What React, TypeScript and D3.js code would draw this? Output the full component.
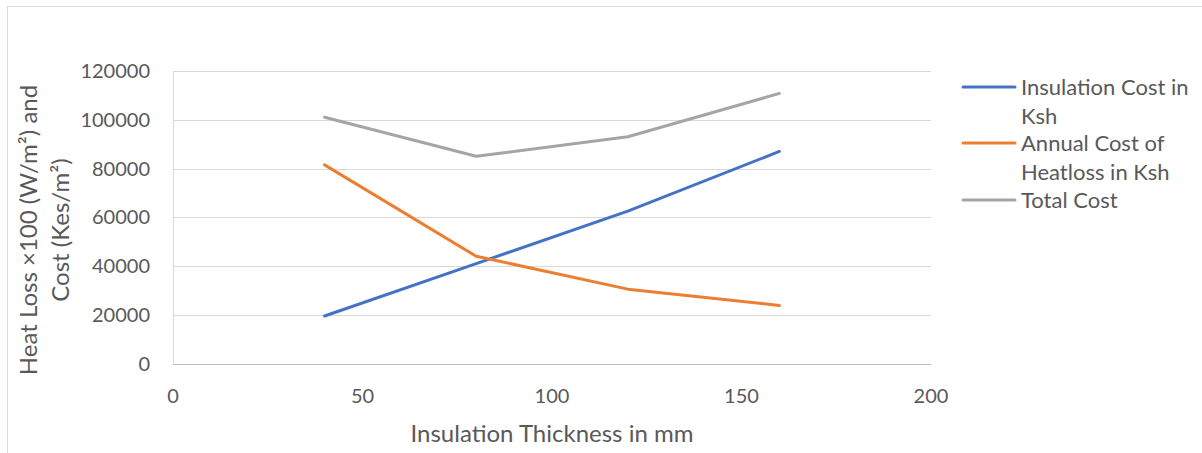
import React, { useEffect, useRef } from 'react';
import * as d3 from 'd3';

const thickness = [40, 80, 120, 160];
const insulationCost = [19500, 41000, 62500, 87000];
const heatlossCost = [81500, 44000, 30500, 23800];
const totalCost = [101000, 85000, 93000, 110800];

const seriesNames = [['Insulation Cost in', 'Ksh'], ['Annual Cost of', 'Heatloss in Ksh'], ['Total Cost']];
const seriesColors = ['#4472C4', '#ED7D31', '#A5A5A5'];
const xTicks = [0, 50, 100, 150, 200];
const yTicks = [0, 20000, 40000, 60000, 80000, 100000, 120000];

const App: React.FC = () => {
  const svgRef = useRef<SVGSVGElement>(null);

  useEffect(() => {
    if (!svgRef.current) return;
    const svg = d3.select(svgRef.current);
    svg.selectAll('*').remove();

    const width = 1202;
    const height = 453;
    const font = 'Lato, "Open Sans", sans-serif';
    const textColor = '#595959';

    // chart border
    svg.append('rect')
      .attr('x', 7.5).attr('y', 6.5)
      .attr('width', width).attr('height', height)
      .attr('fill', '#fff')
      .attr('stroke', '#d9d9d9');

    const x = d3.scaleLinear().domain([0, 200]).range([173, 931]);
    const y = d3.scaleLinear().domain([0, 120000]).range([363.5, 71]);

    // gridlines
    yTicks.forEach(t => {
      svg.append('line')
        .attr('x1', x(0)).attr('x2', x(200))
        .attr('y1', Math.round(y(t)) + 0.5).attr('y2', Math.round(y(t)) + 0.5)
        .attr('stroke', t === 0 ? '#bfbfbf' : '#d9d9d9')
        .attr('stroke-width', 1);
    });
    // left axis line
    svg.append('line')
      .attr('x1', x(0) + 0.5).attr('x2', x(0) + 0.5)
      .attr('y1', y(120000)).attr('y2', y(0))
      .attr('stroke', '#d9d9d9');

    // y tick labels
    yTicks.forEach(t => {
      svg.append('text')
        .attr('x', 150).attr('y', y(t))
        .attr('dy', '0.35em')
        .attr('text-anchor', 'end')
        .attr('font-family', font).attr('font-size', 20)
        .attr('fill', textColor)
        .text(String(t));
    });

    // x tick labels
    xTicks.forEach(t => {
      svg.append('text')
        .attr('x', x(t)).attr('y', 396)
        .attr('dy', '0.35em')
        .attr('text-anchor', 'middle')
        .attr('font-family', font).attr('font-size', 20)
        .attr('fill', textColor)
        .text(String(t));
    });

    // axis titles
    svg.append('text')
      .attr('x', 552).attr('y', 442)
      .attr('text-anchor', 'middle')
      .attr('font-family', font).attr('font-size', 24)
      .attr('fill', textColor)
      .text('Insulation Thickness in mm');

    const yTitle = svg.append('text')
      .attr('transform', 'translate(0,230) rotate(-90)')
      .attr('text-anchor', 'middle')
      .attr('font-family', font).attr('font-size', 24)
      .attr('fill', textColor);
    yTitle.append('tspan').attr('x', 0).attr('y', 37).text('Heat Loss ×100 (W/m²) and');
    yTitle.append('tspan').attr('x', 0).attr('y', 69).text('Cost (Kes/m²)');

    // lines
    const allSeries = [insulationCost, heatlossCost, totalCost];
    const line = d3.line<number>()
      .x((_, i) => x(thickness[i]))
      .y(d => y(d));
    allSeries.forEach((s, i) => {
      svg.append('path')
        .datum(s)
        .attr('fill', 'none')
        .attr('stroke', seriesColors[i])
        .attr('stroke-width', 3)
        .attr('stroke-linecap', 'round')
        .attr('stroke-linejoin', 'round')
        .attr('d', line);
    });

    // legend
    const legendRows = [87, 143, 200];
    seriesNames.forEach((lines, i) => {
      const ly = legendRows[i];
      svg.append('line')
        .attr('x1', 963).attr('x2', 1015)
        .attr('y1', ly).attr('y2', ly)
        .attr('stroke', seriesColors[i])
        .attr('stroke-width', 3)
        .attr('stroke-linecap', 'round');
      lines.forEach((txt, j) => {
        svg.append('text')
          .attr('x', 1021).attr('y', ly + j * 29)
          .attr('dy', '0.35em')
          .attr('font-family', font).attr('font-size', 22)
          .attr('fill', textColor)
          .text(txt);
      });
    });
  }, []);

  return (
    <div style={{ position: 'absolute', left: 0, top: 0 }}>
      <svg ref={svgRef} width={1202} height={453} style={{ display: 'block' }}></svg>
    </div>
  );
};

export default App;
